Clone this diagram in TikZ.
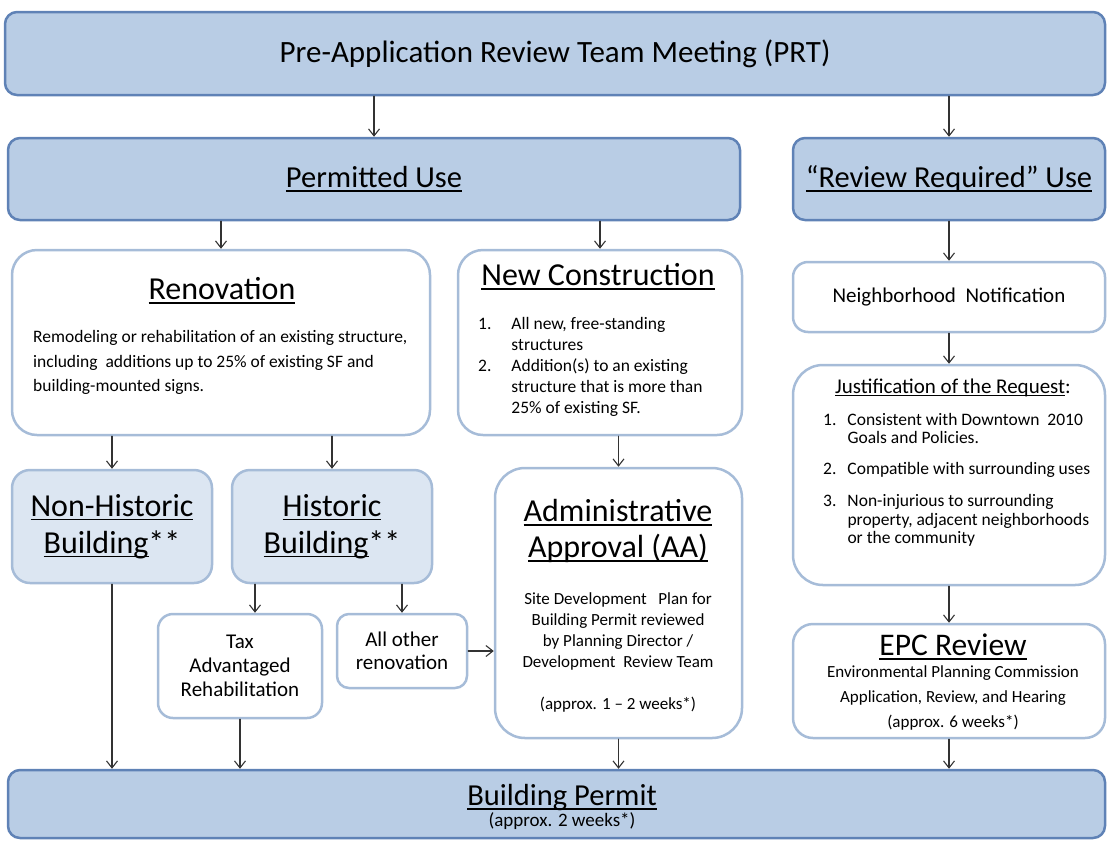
\documentclass[tikz,border=0pt]{standalone}
\usepackage{fontspec}
\setmainfont{Carlito}
\usepackage{tikz}
\usetikzlibrary{arrows.meta}
\definecolor{permfill}{HTML}{B9CDE5}
\definecolor{permline}{HTML}{5F82B6}
\definecolor{softfill}{HTML}{DCE6F2}
\definecolor{softline}{HTML}{A6BCD8}
\newcommand\undl[1]{\setbox0\hbox{#1}\rlap{\rule[-0.13em]{\wd0}{0.06em}}\box0}
\begin{document}
\begin{tikzpicture}[line cap=round,line join=round,>={Straight Barb[length=7pt,width=11pt]},x=1pt,y=-1pt,
mainbox/.style={draw=permline,fill=permfill,line width=2.5pt,rounded corners=12pt,inner sep=0pt,font=\fontsize{30.5}{36}\selectfont},
lightbox/.style={draw=softline,fill=softfill,line width=2.5pt,rounded corners=18pt,inner sep=0pt,align=center,font=\fontsize{32}{37}\selectfont},
whitebox/.style={draw=softline,fill=white,line width=2.5pt,inner sep=0pt,align=center},
head/.style={inner sep=0pt,align=center,font=\fontsize{32}{36}\selectfont},
mid/.style={inner sep=0pt,align=center,font=\fontsize{21}{24}\selectfont},
small/.style={inner sep=0pt,font=\fontsize{17.5}{21}\selectfont},
link/.style={->,line width=1.1pt,black!80}]
\useasboundingbox (0,0) rectangle (1107,841);
\node[mainbox,minimum width=1100,minimum height=83,font=\fontsize{31}{36}\selectfont] (prt) at (555,53.5) {Pre-Application Review Team Meeting (PRT)};
\node[mainbox,minimum width=732,minimum height=82] (pu) at (374,179) {\undl{Permitted Use}};
\node[mainbox,minimum width=312,minimum height=82] (rr) at (949,179) {\undl{“Review Required” Use}};
\node[whitebox,rounded corners=25pt,minimum width=418,minimum height=185] (ren) at (221,342.5) {};
\node[whitebox,rounded corners=25pt,minimum width=284,minimum height=185] (nc) at (600,342.5) {};
\node[whitebox,rounded corners=15pt,minimum width=312,minimum height=70,font=\fontsize{21}{24}\selectfont] (nn) at (949,297) {Neighborhood\ \ Notification};
\node[whitebox,rounded corners=30pt,minimum width=312,minimum height=220] (jr) at (949,475) {};
\node[whitebox,rounded corners=20pt,minimum width=312,minimum height=114] (epc) at (949,681) {};
\node[lightbox,minimum width=200,minimum height=113] (nh) at (112,526.5) {\undl{Non-Historic}\\\undl{Building}**};
\node[lightbox,minimum width=200,minimum height=113] (hb) at (332,526.5) {\undl{Historic}\\\undl{Building}**};
\node[whitebox,rounded corners=15pt,minimum width=164,minimum height=104,font=\fontsize{21}{24}\selectfont] (tax) at (240,666) {Tax\\Advantaged\\Rehabilitation};
\node[whitebox,rounded corners=12pt,minimum width=130,minimum height=74,font=\fontsize{21}{23}\selectfont] (aor) at (402,651) {All other\\renovation};
\node[whitebox,rounded corners=30pt,minimum width=247,minimum height=270] (aa) at (618.5,603) {};
\node[mainbox,minimum width=1097,minimum height=68] (bp) at (556.5,804) {};
\node[head] (rent) at (222,291) {\undl{Renovation}};
\node[small,anchor=west,align=left,font=\fontsize{17.5}{24.5}\selectfont] (renb) at (33,362.5) {Remodeling or rehabilitation of an existing structure,\\including\ \ additions up to 25\% of existing SF and\\building-mounted signs.};
\node[head] (nct) at (598,277) {\undl{New Construction}};
\node[small,anchor=west] (ncb) at (478,367) {\begin{tabular}{@{}l@{\hspace{20pt}}l@{}}
1. & All new, free-standing\\
 & structures\\
2. & Addition(s) to an existing\\
 & structure that is more than\\
 & 25\% of existing SF.
\end{tabular}};
\node[mid] (jrt) at (953,388) {\undl{Justification of the Request}:};
\node[small,anchor=west,font=\fontsize{17.5}{18.5}\selectfont] (jrb) at (823,481) {\begin{tabular}{@{}l@{\hspace{11pt}}l@{}}
1. & Consistent with Downtown\ \ 2010\\
 & Goals and Policies.\\[12pt]
2. & Compatible with surrounding uses\\[14pt]
3. & Non-injurious to surrounding\\
 & property, adjacent neighborhoods\\
 & or the community
\end{tabular}};
\node[head,font=\fontsize{31.5}{36}\selectfont] (epct) at (953,647) {\undl{EPC Review}};
\node[small,align=center,font=\fontsize{17}{25}\selectfont] (epcb) at (953,698) {Environmental Planning Commission\\Application, Review, and Hearing\\(approx. 6 weeks*)};
\node[head] (aat) at (618,531) {\undl{Administrative}\\\undl{Approval (AA)}};
\node[small,align=center,font=\fontsize{17}{21}\selectfont] (aab) at (618,652.5) {Site Development\ \ \ Plan for\\Building Permit reviewed\\by Planning Director /\\Development\ \ Review Team\\[21pt](approx. 1 \textendash\ 2 weeks*)};
\node[head,font=\fontsize{30.5}{36}\selectfont] (bpt) at (562,798) {\undl{Building Permit}};
\node[inner sep=0pt,font=\fontsize{19}{22}\selectfont] (bps) at (562,821) {(approx. 2 weeks*)};
\draw[link] (prt.south -| pu) -- (pu.north);
\draw[link] (prt.south -| rr) -- (rr.north);
\draw[link] (pu.south -| ren) -- (ren.north);
\draw[link] (pu.south -| nc) -- (nc.north);
\draw[link] (rr.south) -- (nn.north);
\draw[link] (nn.south) -- (jr.north);
\draw[link] (jr.south) -- (epc.north);
\draw[link] (epc.south) -- (epc.south |- bp.north);
\draw[link] (ren.south -| nh) -- (nh.north);
\draw[link] (ren.south -| hb) -- (hb.north);
\draw[link] (nc.south -| aa) -- (aa.north);
\draw[link] ([xshift=15pt]tax.north |- hb.south) -- ([xshift=15pt]tax.north);
\draw[link] (hb.south -| aor) -- (aor.north);
\draw[link] (aor.east) -- (aor.east -| aa.west);
\draw[link] (nh.south) -- (nh.south |- bp.north);
\draw[link] (tax.south) -- (tax.south |- bp.north);
\draw[link] (aa.south) -- (aa.south |- bp.north);
\end{tikzpicture}
\end{document}
